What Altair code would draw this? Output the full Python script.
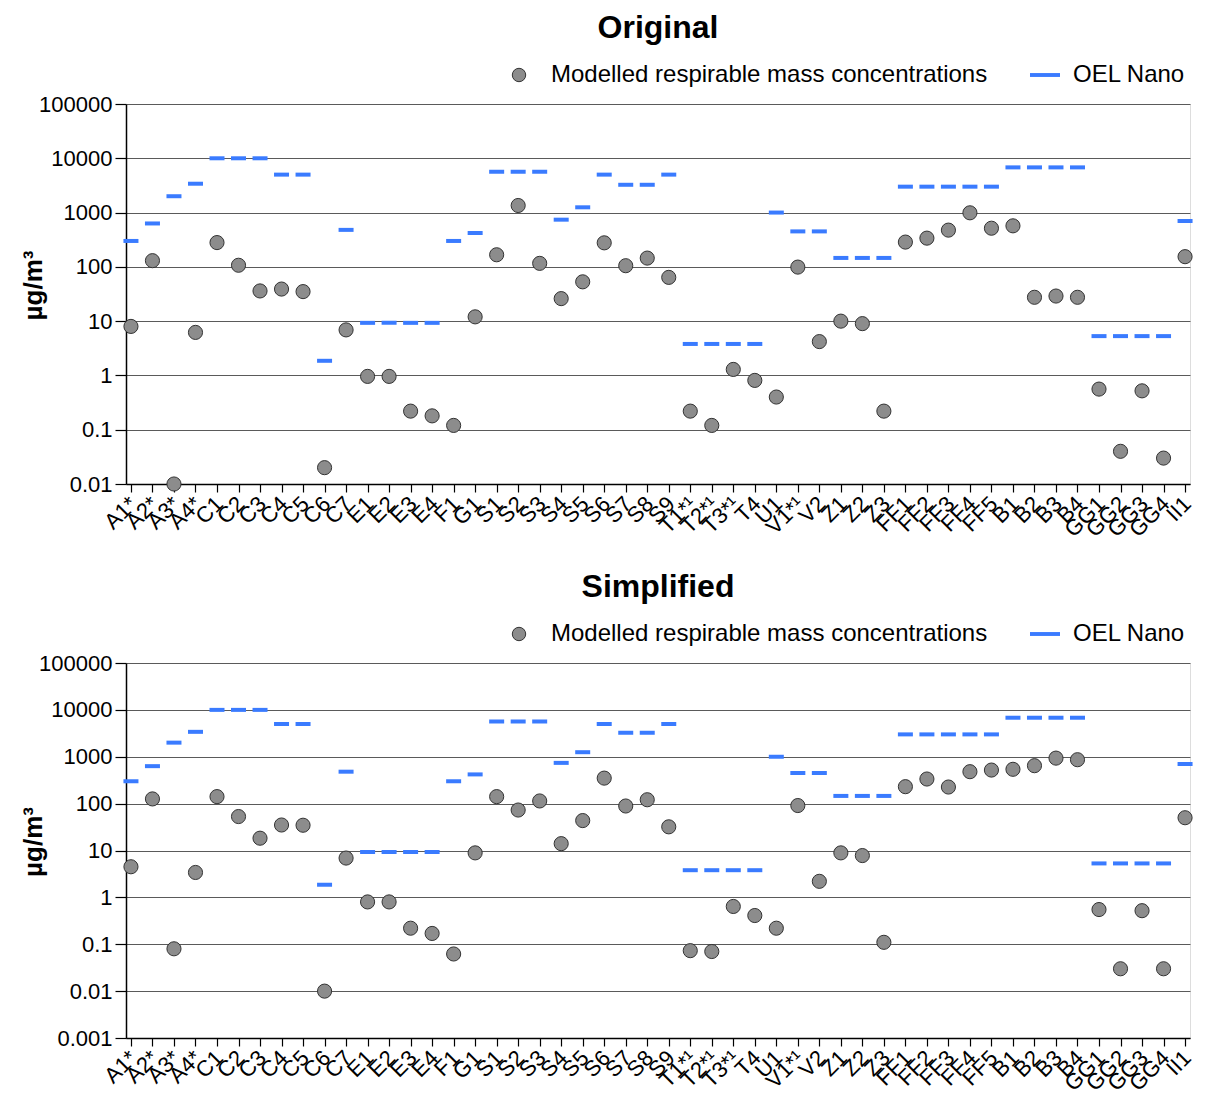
import altair as alt
import pandas as pd

categories = ["A1*", "A2*", "A3*", "A4*", "C1", "C2", "C3", "C4", "C5", "C6", "C7",
              "E1", "E2", "E3", "E4", "F1", "G1",
              "S1", "S2", "S3", "S4", "S5", "S6", "S7", "S8", "S9",
              "T1*¹", "T2*¹", "T3*¹", "T4", "U1", "V1*¹", "V2", "Z1", "Z2", "Z3",
              "FF1", "FF2", "FF3", "FF4", "FF5", "B1", "B2", "B3", "B4",
              "GG1", "GG2", "GG3", "GG4", "II1"]

original = [8, 130, 0.01, 6.2, 280, 107, 36, 39, 35, 0.02, 6.9,
            0.96, 0.96, 0.22, 0.18, 0.12, 12,
            167, 1350, 116, 26, 53, 277, 105, 145, 64,
            0.22, 0.12, 1.29, 0.81, 0.40, 99, 4.2, 10, 9.0, 0.22,
            286, 338, 475, 990, 515, 570, 27.5, 29, 27.5,
            0.56, 0.04, 0.52, 0.03, 154]

simplified = [4.5, 126, 0.08, 3.4, 141, 53, 18.3, 35, 34.6, 0.01, 6.9,
              0.80, 0.80, 0.22, 0.17, 0.062, 8.9,
              141, 73, 114, 14, 43.5, 350, 89, 121, 32,
              0.073, 0.07, 0.64, 0.41, 0.22, 91, 2.2, 8.9, 7.8, 0.11,
              230, 335, 226, 480, 520, 540, 645, 935, 865,
              0.55, 0.03, 0.52, 0.03, 50]

oel_nano = [300, 630, 2000, 3400, 10000, 10000, 10000, 5000, 5000, 1.86, 480,
            9.3, 9.3, 9.3, 9.3, 300, 420,
            5650, 5650, 5650, 740, 1250, 5000, 3250, 3250, 5000,
            3.8, 3.8, 3.8, 3.8, 1000, 450, 450, 146, 146, 146,
            3000, 3000, 3000, 3000, 3000, 6800, 6800, 6800, 6800,
            5.3, 5.3, 5.3, 5.3, 700]

ticks_top = [0.01, 0.1, 1, 10, 100, 1000, 10000, 100000]
ticks_bottom = [0.001, 0.01, 0.1, 1, 10, 100, 1000, 10000, 100000]

MODEL_LABEL = "Modelled respirable mass concentrations"
OEL_LABEL = "OEL Nano"

FONT = "Liberation Sans"
GRAY = "#8c8c8c"
BLUE = "#3a7bff"
W = 1064


def panel(title, values, ymin, yticks, height):
    df = pd.DataFrame({
        "cat": categories,
        "value": values,
        "oel": oel_nano,
        "s1": [MODEL_LABEL] * len(categories),
        "s2": [OEL_LABEL] * len(categories),
    })
    x = alt.X("cat:N", sort=categories,
              scale=alt.Scale(type="point", padding=0.23),
              axis=alt.Axis(title=None, labelAngle=-45, labelFontSize=22,
                            labelFont=FONT, labelColor="black", labelPadding=8,
                            labelOffset=2,
                            labelAlign="right", labelBaseline="middle",
                            tickSize=8, tickColor="black", tickWidth=1.2,
                            domainColor="black", domainWidth=1.5, grid=False,
                            labelOverlap=False, labelBound=False))
    yscale = alt.Scale(type="log", domain=[ymin, 100000], nice=False)
    yaxis = alt.Axis(title="µg/m³", values=yticks, format="~g", grid=True,
                     gridColor="#5a5a5a", gridWidth=1,
                     labelFontSize=22, labelFont=FONT, labelColor="black",
                     labelPadding=3, tickSize=11, tickColor="black", tickWidth=1.2,
                     domainColor="black", domainWidth=1.5,
                     titleFontSize=26, titleFont=FONT, titleFontWeight="bold",
                     titleColor="black", titleX=-80, titleY=height / 2 - 9,
                     titleAngle=270, titleBaseline="bottom", titleAlign="center")
    oel = alt.Chart(df).mark_tick(thickness=4, size=15, opacity=1).encode(
        x=x,
        y=alt.Y("oel:Q", scale=yscale, axis=yaxis),
        color=alt.Color("s2:N", scale=alt.Scale(domain=[OEL_LABEL], range=[BLUE]),
                        legend=alt.Legend(orient="none", legendX=904, legendY=-44,
                                          title=None, labelFontSize=24, labelFont=FONT,
                                          labelColor="black", padding=0, labelLimit=600,
                                          symbolType="M-1,-0.13H1V0.13H-1Z",
                                          symbolSize=900, symbolStrokeWidth=0,
                                          labelOffset=13)),
    )
    pts = alt.Chart(df).mark_circle(size=200, stroke="#333333", strokeWidth=1,
                                    opacity=1).encode(
        x=x,
        y=alt.Y("value:Q", scale=yscale, axis=yaxis),
        fill=alt.Fill("s1:N", scale=alt.Scale(domain=[MODEL_LABEL], range=[GRAY]),
                      legend=alt.Legend(orient="none", legendX=381, legendY=-41,
                                        title=None, labelFontSize=24, labelFont=FONT,
                                        labelColor="black", padding=0, labelLimit=600,
                                        symbolType="circle", symbolSize=180,
                                        symbolStrokeColor="#333333",
                                        symbolStrokeWidth=1, labelOffset=20)),
    )
    return alt.layer(oel, pts).properties(
        width=W, height=height,
        title=alt.Title(title, fontSize=32, font=FONT, fontWeight="bold",
                        color="black", anchor="middle", frame="group", offset=15),
    )


top = panel("Original", original, 0.01, ticks_top, 380)
bottom = panel("Simplified", simplified, 0.001, ticks_bottom, 375)

chart = alt.vconcat(top, bottom, spacing=28).resolve_scale(
    color="independent", fill="independent"
).resolve_legend(color="independent", fill="independent").properties(
    padding={"left": 11, "top": 3, "right": 0, "bottom": 0}
).configure_view(stroke="#888888", strokeWidth=1).configure(background="white")

chart.save("out.html", embed_options={"renderer": "svg", "actions": False})
